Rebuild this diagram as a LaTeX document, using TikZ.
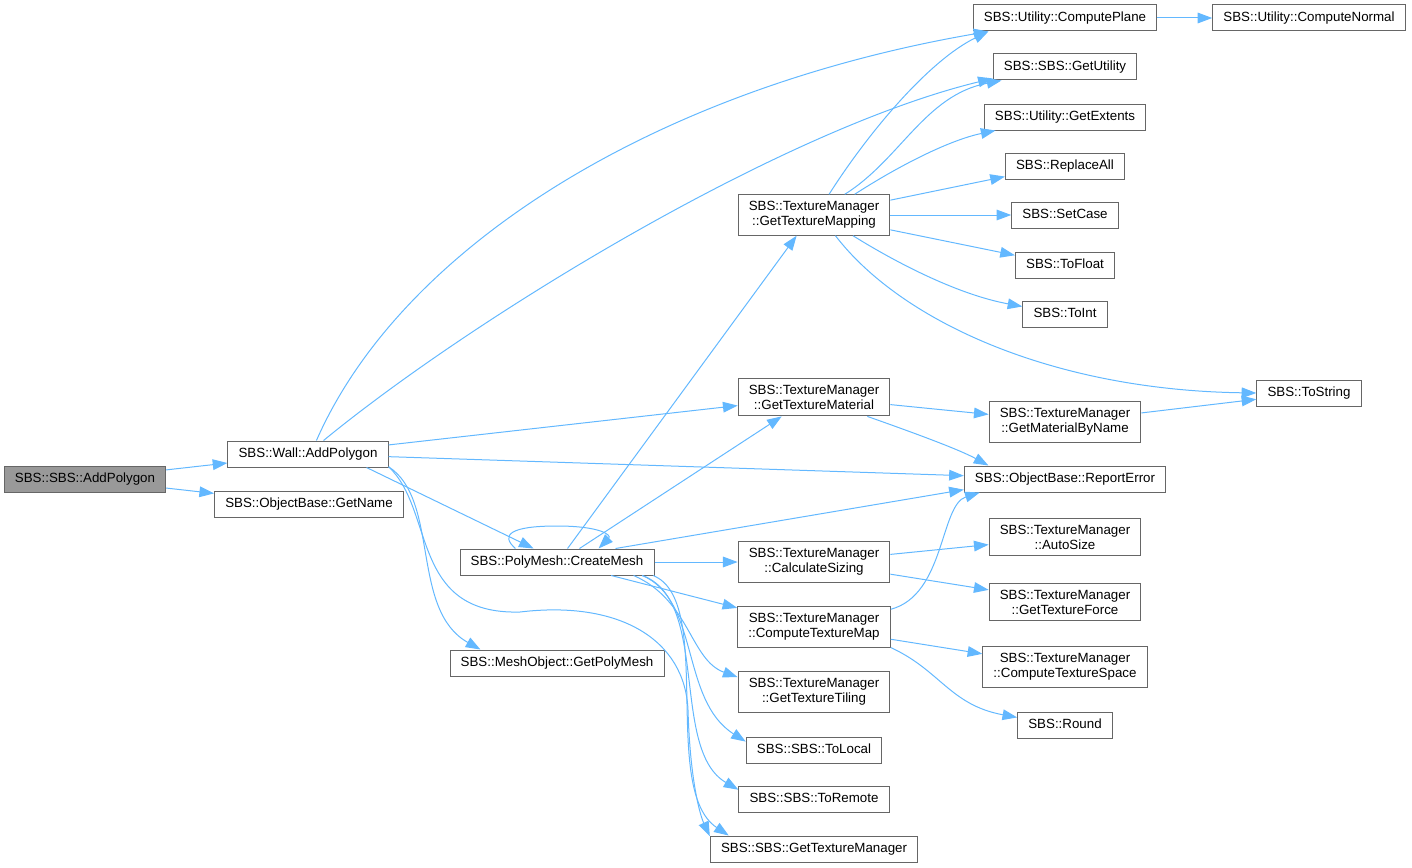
\documentclass[tikz,border=0pt]{standalone}
\usepackage{fontspec}
\setmainfont{Liberation Sans}
\usetikzlibrary{arrows.meta}

\tikzset{every picture/.style={line width=0.75pt}}
\tikzset{
  fn/.style={draw={rgb, 255:red, 102; green, 102; blue, 102 }, fill=white, inner xsep=8pt, inner ysep=5pt, text height=7.4pt, text depth=2.1pt, font=\fontsize{10}{11.25}\selectfont},
  fnn/.style={draw={rgb, 255:red, 102; green, 102; blue, 102 }, fill=white, inner xsep=8pt, inner ysep=5pt, align=center, font=\fontsize{10}{11.25}\selectfont},
  rootfn/.style={fn, fill={rgb, 255:red, 153; green, 153; blue, 153 }},
  call/.style={draw={rgb, 255:red, 99; green, 184; blue, 255 }, -{Triangle[length=11pt,width=8pt]}},
}

\begin{document}
\begin{tikzpicture}[x=0.75pt,y=0.75pt,yscale=-1,xscale=1]
\useasboundingbox (0,0) rectangle (1412,867);

% Text Node
\node [rootfn] (root) at (85,479) {SBS::SBS::AddPolygon};
% Text Node
\node [fn] (wall) at (308,454) {SBS::Wall::AddPolygon};
% Text Node
\node [fn] (getname) at (309,504) {SBS::ObjectBase::GetName};
% Text Node
\node [fn] (cmesh) at (557,562) {SBS::PolyMesh::CreateMesh};
% Text Node
\node [fn] (polymesh) at (557,663) {SBS::MeshObject::GetPolyMesh};
% Text Node
\node [fnn] (gtmap) at (814,215) {SBS::TextureManager\\::GetTextureMapping};
% Text Node
\node [fnn] (gtmat) at (814,397) {SBS::TextureManager\\::GetTextureMaterial};
% Text Node
\node [fnn] (calcsz) at (814,562) {SBS::TextureManager\\::CalculateSizing};
% Text Node
\node [fnn] (ctmap) at (814,627) {SBS::TextureManager\\::ComputeTextureMap};
% Text Node
\node [fnn] (gttile) at (814,692) {SBS::TextureManager\\::GetTextureTiling};
% Text Node
\node [fn] (tolocal) at (814,750) {SBS::SBS::ToLocal};
% Text Node
\node [fn] (toremote) at (814,799) {SBS::SBS::ToRemote};
% Text Node
\node [fn] (gtman) at (814,849) {SBS::SBS::GetTextureManager};
% Text Node
\node [fn] (cplane) at (1065,18) {SBS::Utility::ComputePlane};
% Text Node
\node [fn] (cnormal) at (1309,18) {SBS::Utility::ComputeNormal};
% Text Node
\node [fn] (getutil) at (1065,67) {SBS::SBS::GetUtility};
% Text Node
\node [fn] (getext) at (1065,117) {SBS::Utility::GetExtents};
% Text Node
\node [fn] (replall) at (1065,166) {SBS::ReplaceAll};
% Text Node
\node [fn] (setcase) at (1065,215) {SBS::SetCase};
% Text Node
\node [fn] (tofloat) at (1065,265) {SBS::ToFloat};
% Text Node
\node [fn] (toint) at (1065,314) {SBS::ToInt};
% Text Node
\node [fn] (tostr) at (1309,393) {SBS::ToString};
% Text Node
\node [fnn] (gmbn) at (1065,422) {SBS::TextureManager\\::GetMaterialByName};
% Text Node
\node [fn] (reperr) at (1065,479) {SBS::ObjectBase::ReportError};
% Text Node
\node [fnn] (autosz) at (1065,537) {SBS::TextureManager\\::AutoSize};
% Text Node
\node [fnn] (gtforce) at (1065,602) {SBS::TextureManager\\::GetTextureForce};
% Text Node
\node [fnn] (ctspace) at (1065,667) {SBS::TextureManager\\::ComputeTextureSpace};
% Text Node
\node [fn] (round) at (1065,725) {SBS::Round};

%Straight Lines
\draw [call] (root) -- (wall);
\draw [call] (root) -- (getname);
%Curve Lines
\draw [call] (wall.58) .. controls (400,250) and (650,90) .. (cplane.190);
\draw [call] (wall.41) .. controls (470,320) and (780,130) .. (getutil.189);
\draw [call] (wall) -- (gtmat);
\draw [call] (wall) -- (reperr);
\draw [call] (wall.-13) -- (cmesh.150);
\draw [call] (wall.-9.5) .. controls (440,500) and (410,610) .. (polymesh.170);
\draw [call] (wall.-9) .. controls (435,510) and (410,615) .. (520,612) .. controls (620,600) and (685,640) .. (688,710) .. controls (690,780) and (700,815) .. (gtman.173);

%Curve Lines
\draw [call] (cmesh.162) .. controls (500,535) and (510,526) .. (557,526) .. controls (600,526) and (612,535) .. (cmesh.18);
\draw [call] (cmesh.52) -- (gtmap.230);
\draw [call] (cmesh.31) -- (gtmat.211);
\draw [call] (cmesh.13) -- (reperr.186);
\draw [call] (cmesh) -- (calcsz);
\draw [call] (cmesh.-14) -- (ctmap.166);
\draw [call] (cmesh.-10) .. controls (690,600) and (690,660) .. (gttile.169);
\draw [call] (cmesh.-9.4) .. controls (700,600) and (680,700) .. (tolocal.173);
\draw [call] (cmesh.-9) .. controls (710,600) and (670,750) .. (toremote.173);
\draw [call] (cmesh.-8.5) .. controls (715,600) and (660,790) .. (gtman.171.5);

%Curve Lines
\draw [call] (gtmap.54) .. controls (870,130) and (930,60) .. (cplane.190);
\draw [call] (gtmap.34) .. controls (900,160) and (925,95) .. (getutil.192);
\draw [call] (gtmap.27) .. controls (900,165) and (950,140) .. (getext.191);
\draw [call] (gtmap.11) -- (replall.190);
\draw [call] (gtmap) -- (setcase);
\draw [call] (gtmap.-11) -- (tofloat.169);
\draw [call] (gtmap.-28) .. controls (900,265) and (960,295) .. (toint.170);
\draw [call] (gtmap.-44) .. controls (900,320) and (1050,390) .. (tostr.west);

%Straight Lines
\draw [call] (gtmat) -- (gmbn);
\draw [call] (gtmat.-20) .. controls (920,435) and (960,450) .. (reperr.170);
\draw [call] (gmbn) -- (tostr);
\draw [call] (cplane) -- (cnormal);
\draw [call] (calcsz) -- (autosz);
\draw [call] (calcsz) -- (gtforce);
\draw [call] (ctmap.13) .. controls (945,595) and (940,505) .. (reperr.189);
\draw [call] (ctmap) -- (ctspace);
\draw [call] (ctmap.-15) .. controls (940,670) and (950,705) .. (round.171);

\end{tikzpicture}
\end{document}
